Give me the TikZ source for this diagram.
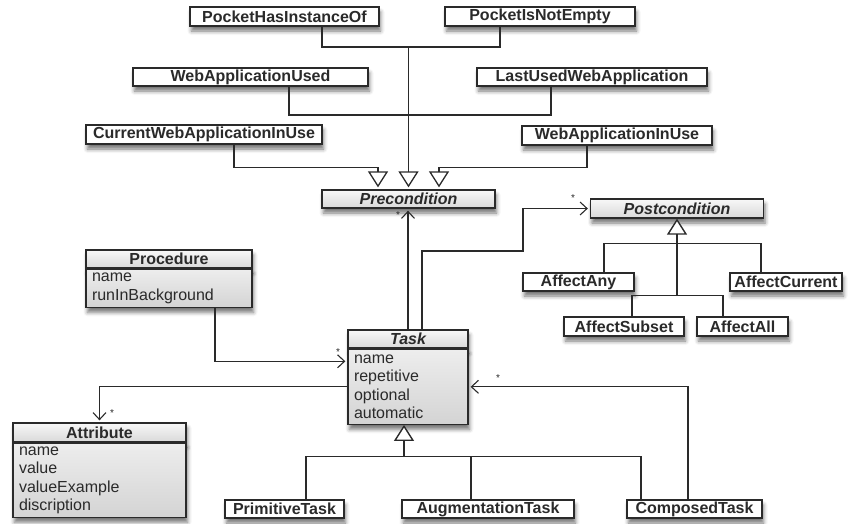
\documentclass[tikz,border=0pt]{standalone}
\usepackage{fontspec}
\setmainfont{Liberation Sans}
\usetikzlibrary{arrows.meta,shadows.blur}
\definecolor{ink}{HTML}{2A2A2A}
\begin{document}
\begin{tikzpicture}[x=1pt,y=-1pt,
  every node/.style={text=ink},
  box/.style={draw=ink, line width=1.3pt, inner sep=0pt,
    blur shadow={shadow xshift=1.5pt, shadow yshift=-5pt, shadow blur radius=4pt, shadow opacity=55}},
  sub/.style={box, fill=white, font=\fontsize{16}{18}\selectfont\bfseries},
  cls/.style={box, top color=gray!6, bottom color=gray!30, font=\fontsize{16}{18}\selectfont\bfseries},
  abs/.style={cls, font=\fontsize{16}{18}\selectfont\bfseries\itshape},
  body/.style={box, top color=gray!14, bottom color=gray!34, inner xsep=6pt, inner ysep=0pt,
    align=left, font=\fontsize{16}{18.5}\selectfont},
  conn/.style={draw=ink, line width=1.1pt},
  gen/.style={conn, shorten >=2pt, -{Triangle[width=20pt, length=16pt, line width=1.3pt, fill=white]}},
  genthick/.style={draw=ink, line width=2.4pt, -{Triangle[width=20pt, length=16pt, line width=1.4pt, fill=white]}},
  assoc/.style={conn, shorten >=2pt, -{Straight Barb[length=7pt, width=13pt, line width=1.1pt]}},
  mult/.style={font=\fontsize{10}{10}\selectfont, inner sep=0pt}
]
\useasboundingbox (0,0) rectangle (848,523);

% precondition subclasses
\node[sub, minimum width=189pt, minimum height=19pt] (phio) at (284.5,16.5) {PocketHasInstanceOf};
\node[sub, minimum width=190pt, minimum height=19pt] (pine) at (540,16.5) {PocketIsNotEmpty};
\node[sub, minimum width=235pt, minimum height=18pt] (wau) at (250.5,77) {WebApplicationUsed};
\node[sub, minimum width=230pt, minimum height=18pt] (luwa) at (592,77) {LastUsedWebApplication};
\node[sub, minimum width=236pt, minimum height=19pt] (cwaiu) at (204,134.5) {CurrentWebApplicationInUse};
\node[sub, minimum width=190pt, minimum height=19pt] (waiu) at (617,135.5) {WebApplicationInUse};
\node[abs, minimum width=173pt, minimum height=18pt] (pre) at (408.5,199) {Precondition};

% postcondition
\node[abs, minimum width=173pt, minimum height=19pt] (post) at (677,208.5) {Postcondition};
\node[sub, minimum width=111pt, minimum height=18pt] (aany) at (578.5,282) {AffectAny};
\node[sub, minimum width=112pt, minimum height=18pt] (acur) at (786,282) {AffectCurrent};
\node[sub, minimum width=120pt, minimum height=19pt] (asub) at (624,326.5) {AffectSubset};
\node[sub, minimum width=91pt, minimum height=19pt] (aall) at (742.5,326.5) {AffectAll};

% procedure
\node[cls, minimum width=166pt, minimum height=18pt] (procT) at (169,259) {Procedure};
\node[body, text width=154pt, minimum height=38pt, anchor=north] (procB) at (procT.south) {name\\runInBackground};

% task
\node[abs, minimum width=120pt, minimum height=18pt] (taskT) at (408,339) {Task};
\node[body, text width=108pt, minimum height=75pt, anchor=north] (taskB) at (taskT.south) {name\\repetitive\\optional\\automatic};

% attribute
\node[cls, minimum width=173pt, minimum height=19pt] (attrT) at (99.5,432.5) {Attribute};
\node[body, text width=161pt, minimum height=74pt, anchor=north] (attrB) at (attrT.south) {name\\value\\valueExample\\discription};

% task subclasses
\node[sub, minimum width=119pt, minimum height=18pt] (prim) at (284.5,509) {PrimitiveTask};
\node[sub, minimum width=172pt, minimum height=18pt] (aug) at (488,509) {AugmentationTask};
\node[sub, minimum width=135pt, minimum height=18pt] (comp) at (694.5,509) {ComposedTask};

% precondition generalizations
\coordinate (j1) at (408.5,47);
\coordinate (j2) at (408.5,115);
\draw[conn] ([xshift=37.5pt]phio.south) |- (j1) -| ([xshift=-40pt]pine.south);
\draw[conn] ([xshift=38.5pt]wau.south) |- (j2) -| ([xshift=-41pt]luwa.south);
\draw[gen, line width=1.6pt] (j1) -- (pre.north);
\draw[gen] ([xshift=30pt]cwaiu.south) -- ++(0,22.5) -| ([xshift=-30.5pt]pre.north);
\draw[gen] ([xshift=-30pt]waiu.south) -- ++(0,21.5) -| ([xshift=30.5pt]pre.north);

% task -> precondition
\draw[assoc] (taskT.north) -- (taskT.north |- pre.south);
\node[mult] (m1) at (398,215) {*};

% task -> postcondition
\coordinate (p1) at (523,251);
\draw[assoc] ([xshift=14pt]taskT.north) |- (p1) |- (post.west);
\node[mult] (m2) at (573,198) {*};

% postcondition generalizations
\coordinate (pj) at (677,296);
\draw[conn] ([xshift=25.5pt]aany.north) -- ++(0,-29) -| ([xshift=-25pt]acur.north);
\draw[conn] ([xshift=8pt]asub.north) -- ++(0,-21) -| ([xshift=-19.5pt]aall.north);
\draw[genthick] (pj) -- (post.south);

% task generalizations
\coordinate (tj) at (404,457);
\draw[conn] ([xshift=21.5pt]prim.north) -- ++(0,-43) -| ([xshift=-53.5pt]comp.north);
\draw[conn] ([xshift=-17pt]aug.north) -- ++(0,-43);
\draw[genthick] (tj) -- ([xshift=-4pt]taskB.south);

% composed -> task
\draw[assoc] ([xshift=-6.5pt]comp.north) |- (taskB.east);
\node[mult] (m3) at (498,378) {*};

% procedure -> task
\draw[assoc] ([xshift=46pt]procB.south) |- ([yshift=25.5pt]taskB.west);
\node[mult] (m4) at (338,352) {*};

% task -> attribute
\draw[assoc] (taskB.west) -| (attrT.north);
\node[mult] (m5) at (112,413) {*};
\end{tikzpicture}
\end{document}
